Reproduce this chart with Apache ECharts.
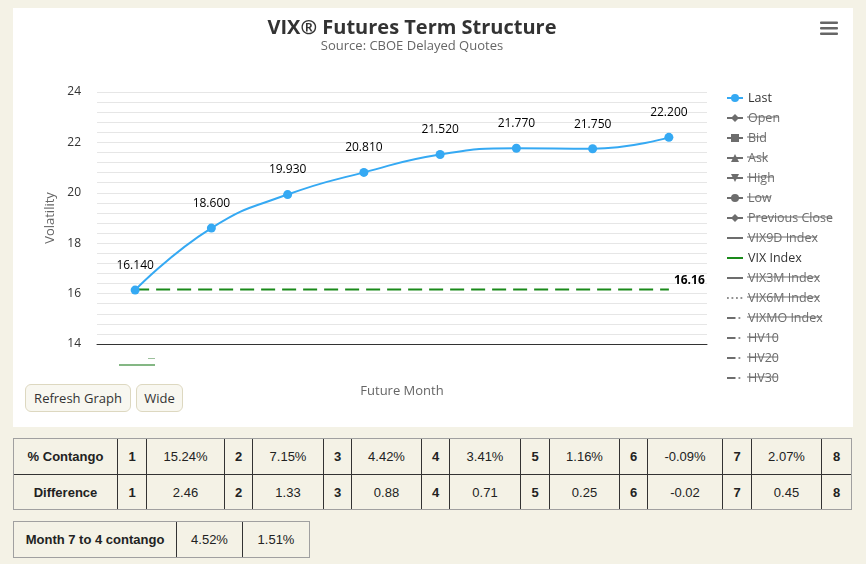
<!DOCTYPE html>
<html>
<head>
<meta charset="utf-8">
<title>VIX Futures Term Structure</title>
<script src="https://cdn.jsdelivr.net/npm/echarts@6/dist/echarts.min.js"></script>
<style>
  html, body { margin: 0; padding: 0; }
  body {
    width: 866px;
    height: 564px;
    background: #f4f2e6;
    position: relative;
    overflow: hidden;
    font-family: "Liberation Sans", Arial, sans-serif;
  }
  .chartBox {
    position: absolute;
    left: 13px;
    top: 8px;
    width: 840px;
    height: 419px;
    background: #fff;
  }
  #chart { width: 840px; height: 419px; }
  .btn {
    position: absolute;
    top: 376px;
    height: 28px;
    box-sizing: border-box;
    border: 1px solid #ddd8c0;
    border-radius: 6px;
    background: #f8f7f0;
    color: #333;
    font: 13px "Open Sans", sans-serif;
    line-height: 26px;
    text-align: center;
  }
  table.stats {
    position: absolute;
    left: 13px;
    border-collapse: separate;
    border-spacing: 0;
    border: 1px solid #a0a0a0;
    table-layout: fixed;
    color: #222;
    font-size: 13px;
  }
  table.stats td {
    padding: 0;
    text-align: center;
    border-right: 1px solid #333;
  }
  table.stats td:last-child { border-right: none; }
  table.stats td.b { font-weight: bold; }
  table.stats tr.first td { border-bottom: 1px solid #333; }
</style>
</head>
<body>
<div class="chartBox">
  <div id="chart"></div>
  <div class="btn" style="left:12px;width:106px;">Refresh Graph</div>
  <div class="btn" style="left:123px;width:47px;">Wide</div>
</div>
<table class="stats" id="tblMain" style="top:438px;width:839px;"></table>
<table class="stats" id="tblM74" style="top:521px;width:297px;"></table>

<script>
// values
var months = ['1', '2', '3', '4', '5', '6', '7', '8'];
var lastPrice = [16.14, 18.60, 19.93, 20.81, 21.52, 21.77, 21.75, 22.20];
var vixIndex = [16.16, 16.16, 16.16, 16.16, 16.16, 16.16, 16.16, 16.16];

// table values
var contangoPct = [15.24, 7.15, 4.42, 3.41, 1.16, -0.09, 2.07];
var difference = [2.46, 1.33, 0.88, 0.71, 0.25, -0.02, 0.45];
var month7to4 = [4.52, 1.51];

var legendNames = ['Last', 'Open', 'Bid', 'Ask', 'High', 'Low', 'Previous Close',
  'VIX9D Index', 'VIX Index', 'VIX3M Index', 'VIX6M Index', 'VIXMO Index', 'HV10', 'HV20', 'HV30'];
var shownNames = ['Last', 'VIX Index'];

var grey = '#6d6d6d';
var fontFam = '"Open Sans", sans-serif';
var legendFontSize = 12.5;

// legend icons (16x10 box)
var iconSolid = 'path://M0,0M16,10M0,4h16v2h-16z';
var iconDot = 'path://M0,0M16,10M0,4.2h1.8v1.6h-1.8zM4.5,4.2h1.8v1.6h-1.8zM9,4.2h1.8v1.6h-1.8zM13.5,4.2h1.8v1.6h-1.8z';
var iconDashDot = 'path://M0,0M16,10M0,4h8.5v2h-8.5zM11.5,4.2h1.8v1.6h-1.8z';

function hiddenSeries(name, symbol, dash) {
  return {
    name: name,
    type: 'line',
    data: [],
    symbol: symbol || 'none',
    itemStyle: { color: grey, borderWidth: 0 },
    lineStyle: { color: grey, width: 2, type: dash || 'solid' }
  };
}

var legendData = legendNames.map(function (n) {
  var item = { name: n };
  if (n === 'VIX9D Index' || n === 'VIX Index' || n === 'VIX3M Index') item.icon = iconSolid;
  if (n === 'VIX6M Index') item.icon = iconDot;
  if (n === 'VIXMO Index' || n.indexOf('HV') === 0) item.icon = iconDashDot;
  return item;
});

var selected = {};
legendNames.forEach(function (n) { selected[n] = shownNames.indexOf(n) >= 0; });

// strike-through lines for the hidden legend items
var legendLeft = 713, legendTop = 83, rowStep = 20, firstRow = 88;
var measureCtx = document.createElement('canvas').getContext('2d');
measureCtx.font = legendFontSize + 'px ' + fontFam;
var strikes = [];
legendNames.forEach(function (n, i) {
  if (selected[n]) return;
  var w = measureCtx.measureText(n).width;
  var y = firstRow + i * rowStep + 1;
  strikes.push({
    type: 'line',
    silent: true,
    shape: { x1: legendLeft + 21, y1: y, x2: legendLeft + 21 + w, y2: y },
    style: { stroke: grey, lineWidth: 1 }
  });
});

var chart = echarts.init(document.getElementById('chart'));

var option = {
  animation: false,
  backgroundColor: '#fff',
  textStyle: { fontFamily: fontFam },
  title: {
    text: 'VIX® Futures Term Structure',
    subtext: 'Source: CBOE Delayed Quotes',
    left: 399,
    top: 10,
    padding: 0,
    itemGap: 2,
    textAlign: 'center',
    textStyle: { fontSize: 20, fontWeight: 'bold', color: '#333' },
    subtextStyle: { fontSize: 13, color: '#666' }
  },
  legend: {
    orient: 'vertical',
    left: legendLeft,
    top: legendTop,
    padding: 0,
    itemWidth: 16,
    itemHeight: 10,
    itemGap: 6,
    data: legendData,
    selected: selected,
    selectedMode: true,
    inactiveColor: grey,
    inactiveBorderWidth: 0,
    lineStyle: { inactiveColor: grey, inactiveWidth: 2 },
    textStyle: { fontSize: legendFontSize, color: '#333', lineHeight: 14 }
  },
  grid: { left: 84, top: 84, width: 610, height: 252 },
  xAxis: {
    type: 'category',
    data: months,
    boundaryGap: true,
    name: 'Future Month',
    nameLocation: 'middle',
    nameGap: 41,
    nameTextStyle: { color: '#666', fontSize: 13 },
    axisLine: { lineStyle: { color: '#333', width: 1 } },
    axisTick: { show: false },
    axisLabel: { show: false }
  },
  yAxis: {
    type: 'value',
    min: 14,
    max: 24,
    interval: 2,
    name: 'Volatility',
    nameLocation: 'middle',
    nameGap: 36,
    nameTextStyle: { color: '#666', fontSize: 13 },
    axisLine: { show: false },
    axisTick: { show: false },
    axisLabel: { color: '#333', fontSize: 12, margin: 16 },
    splitLine: { lineStyle: { color: '#e6e6e6', width: 1 } },
    minorTick: { show: false, splitNumber: 5 },
    minorSplitLine: { show: true, lineStyle: { color: '#e6e6e6', width: 1 } }
  },
  graphic: [
    // export menu icon
    { type: 'rect', shape: { x: 807, y: 13.5, width: 18, height: 2.5, r: 1 }, style: { fill: '#666' } },
    { type: 'rect', shape: { x: 807, y: 19, width: 18, height: 2.5, r: 1 }, style: { fill: '#666' } },
    { type: 'rect', shape: { x: 807, y: 24.5, width: 18, height: 2.5, r: 1 }, style: { fill: '#666' } },
    // clipped label remains under the axis
    { type: 'rect', shape: { x: 106, y: 356, width: 36, height: 2 }, style: { fill: '#84b784' } },
    { type: 'rect', shape: { x: 135, y: 350, width: 7, height: 1 }, style: { fill: '#9cc09c' } }
  ].concat(strikes),
  series: [
    {
      name: 'VIX Index',
      type: 'line',
      data: vixIndex,
      symbol: 'none',
      z: 2,
      itemStyle: { color: '#1a8a1a' },
      lineStyle: { color: '#1a8a1a', width: 2, type: [14, 7] },
      endLabel: {
        show: true,
        distance: 5,
        offset: [0, -9],
        formatter: function (p) { return p.value.toFixed(2); },
        color: '#000',
        fontSize: 12,
        fontWeight: 'bold',
        textBorderColor: '#fff',
        textBorderWidth: 2
      }
    },
    hiddenSeries('Open', 'diamond'),
    hiddenSeries('Bid', 'rect'),
    hiddenSeries('Ask', 'triangle'),
    hiddenSeries('High', 'path://M0,0L10,0L5,10Z'),
    hiddenSeries('Low', 'circle'),
    hiddenSeries('Previous Close', 'diamond'),
    hiddenSeries('VIX9D Index'),
    hiddenSeries('VIX3M Index'),
    hiddenSeries('VIX6M Index', null, 'dotted'),
    hiddenSeries('VIXMO Index', null, [8, 3, 2, 3]),
    hiddenSeries('HV10', null, [8, 3, 2, 3]),
    hiddenSeries('HV20', null, [8, 3, 2, 3]),
    hiddenSeries('HV30', null, [8, 3, 2, 3]),
    {
      name: 'Last',
      type: 'line',
      data: lastPrice,
      smooth: true,
      symbol: 'circle',
      symbolSize: 9,
      z: 5,
      itemStyle: { color: '#35a9f3' },
      lineStyle: { color: '#35a9f3', width: 2 },
      label: {
        show: true,
        position: 'top',
        distance: 14,
        color: '#000',
        fontSize: 12,
        formatter: function (p) { return p.value.toFixed(3); }
      }
    }
  ]
};

chart.setOption(option);

// tables under the chart
function pct(v) { return v.toFixed(2) + '%'; }
function num(v) { return v.toFixed(2); }

var colW = [104, 29, 78, 28, 71, 28, 70, 28, 71, 29, 70, 28, 75, 29, 70, 29];
var main = document.getElementById('tblMain');
var cg = '<colgroup>' + colW.map(function (w) { return '<col style="width:' + w + 'px">'; }).join('') + '</colgroup>';
function row(label, vals, fmt, cls, h) {
  var s = '<tr class="' + cls + '" style="height:' + h + 'px"><td class="b">' + label + '</td>';
  for (var i = 0; i < months.length; i++) {
    s += '<td class="b">' + months[i] + '</td>';
    if (i < vals.length) s += '<td>' + fmt(vals[i]) + '</td>';
  }
  return s + '</tr>';
}
main.innerHTML = cg + row('% Contango', contangoPct, pct, 'first', 36) + row('Difference', difference, num, '', 34);

var m74 = document.getElementById('tblM74');
m74.innerHTML = '<colgroup><col style="width:163px"><col style="width:66px"><col style="width:66px"></colgroup>' +
  '<tr style="height:35px"><td class="b">Month 7 to 4 contango</td><td>' + pct(month7to4[0]) + '</td><td>' + pct(month7to4[1]) + '</td></tr>';
</script>
</body>
</html>
